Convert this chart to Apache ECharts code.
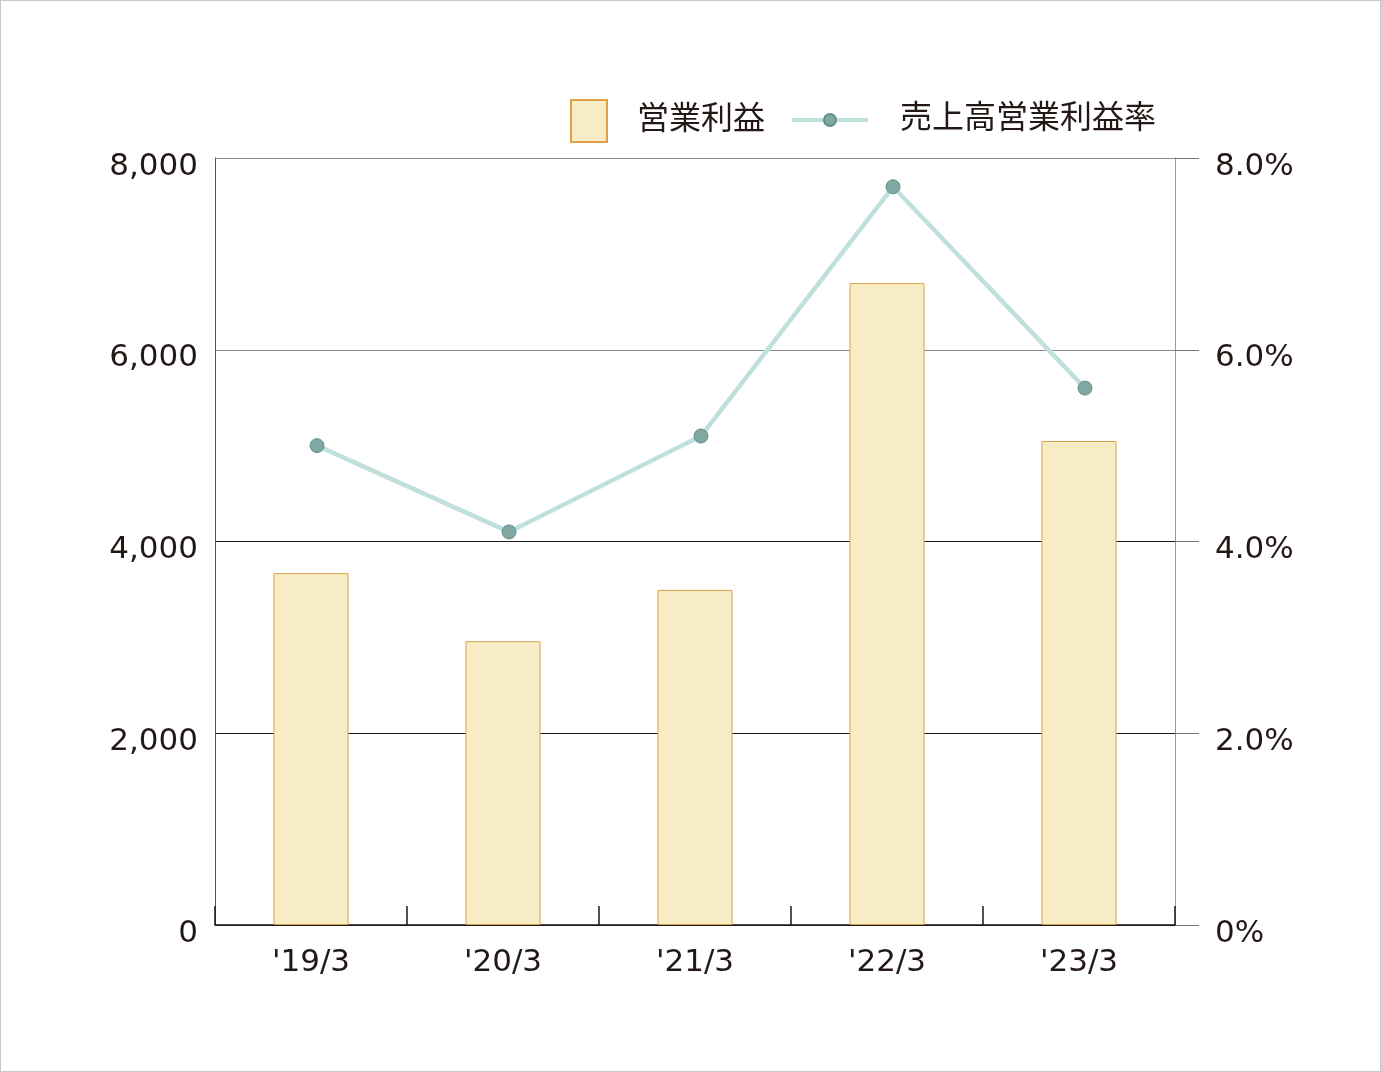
<!DOCTYPE html>
<html lang="ja">
<head>
    <meta charset="UTF-8">
    <script src="https://cdn.jsdelivr.net/npm/echarts@6/dist/echarts.min.js" type="text/javascript"></script>
    <style>
        html,body{margin:0;padding:0;background:#fff}
        #wrap{width:1381px;height:1072px;box-sizing:border-box;border:1px solid #c8c8c8}
        #chart{width:1379px;height:1070px}
    </style>
    <title>営業利益</title>
</head>
<body>
<div id="wrap"><div id="chart"></div></div>
<script type="text/javascript">
    var years = ["'19/3", "'20/3", "'21/3", "'22/3", "'23/3"];
    var profit = [3670, 2960, 3495, 6695, 5048];
    var margin = [5.0, 4.1, 5.1, 7.7, 5.6];
    var leftTicks = [0, 2000, 4000, 6000, 8000];

    var textColor = '#231815';
    var font = "'DejaVu Sans', 'Noto Sans CJK JP', sans-serif";

    var ec = echarts.init(document.getElementById('chart'));
    var option = {
        animation: false,
        textStyle: {fontFamily: font, color: textColor},
        grid: [
            {left: 214, right: 205, top: 157, bottom: 146},
            // the rate line sits a few px right of the bar centres in the original
            {left: 220, right: 199, top: 157, bottom: 146}
        ],
        legend: [
            {
                data: [{name: '営業利益', icon: 'rect'}],
                left: 569, top: 98, padding: 0,
                itemWidth: 36, itemHeight: 42,
                textStyle: {fontSize: 32, lineHeight: 42, color: textColor, fontFamily: font, padding: [0, 0, 0, 25]}
            },
            {
                data: ['売上高営業利益率'],
                left: 789, top: 98, padding: 0,
                itemWidth: 76, itemHeight: 15,
                lineStyle: {color: '#bfe0dc', width: 4},
                textStyle: {fontSize: 32, lineHeight: 42, color: textColor, fontFamily: font, padding: [0, 0, 0, 27]}
            }
        ],
        xAxis: [
            {
                type: 'category',
                data: years,
                axisLine: {lineStyle: {color: '#1a1a1a', width: 1.5}},
                axisTick: {show: true, inside: true, length: 19, lineStyle: {color: '#1a1a1a', width: 1.5}},
                axisLabel: {fontSize: 31, color: textColor, margin: 22}
            },
            {
                type: 'category',
                gridIndex: 1,
                data: years,
                show: false
            }
        ],
        yAxis: [
            {
                type: 'value',
                min: leftTicks[0], max: leftTicks[leftTicks.length - 1], interval: 2000,
                axisLine: {show: true, lineStyle: {color: '#555'}},
                axisTick: {show: false},
                axisLabel: {fontSize: 31, color: textColor, margin: 17, verticalAlign: 'top', lineHeight: 17,
                    formatter: function (v) { return v.toLocaleString('en-US'); }},
                splitLine: {
                    show: true, showMinLine: true, showMaxLine: true,
                    lineStyle: {color: ['#1a1a1a', '#1a1a1a', '#1a1a1a', '#8a8a8a', '#8a8a8a'], width: 1}
                }
            },
            {
                type: 'value',
                min: 0, max: 8, interval: 2,
                position: 'right',
                axisLine: {show: true, lineStyle: {color: '#9a9a9a'}},
                axisTick: {show: true, length: 24, lineStyle: {color: '#777'}},
                axisLabel: {fontSize: 31, color: textColor, margin: 40, verticalAlign: 'top', lineHeight: 17,
                    formatter: function (v) { return v === 0 ? '0%' : v.toFixed(1) + '%'; }},
                splitLine: {show: false}
            },
            {
                type: 'value',
                gridIndex: 1,
                min: 0, max: 8, interval: 2,
                show: false
            }
        ],
        series: [
            {
                name: '営業利益',
                type: 'bar',
                data: profit,
                barWidth: 75,
                itemStyle: {color: '#f7ecc6', borderColor: '#dea048', borderWidth: 1}
            },
            {
                name: '売上高営業利益率',
                type: 'line',
                xAxisIndex: 1,
                yAxisIndex: 2,
                data: margin,
                symbol: 'circle',
                symbolSize: 14,
                lineStyle: {color: '#bfe0dc', width: 4.5},
                itemStyle: {color: '#7fa8a3', borderColor: '#5f8f8a', borderWidth: 1}
            }
        ]
    };
    ec.setOption(option);
</script>
</body>
</html>
